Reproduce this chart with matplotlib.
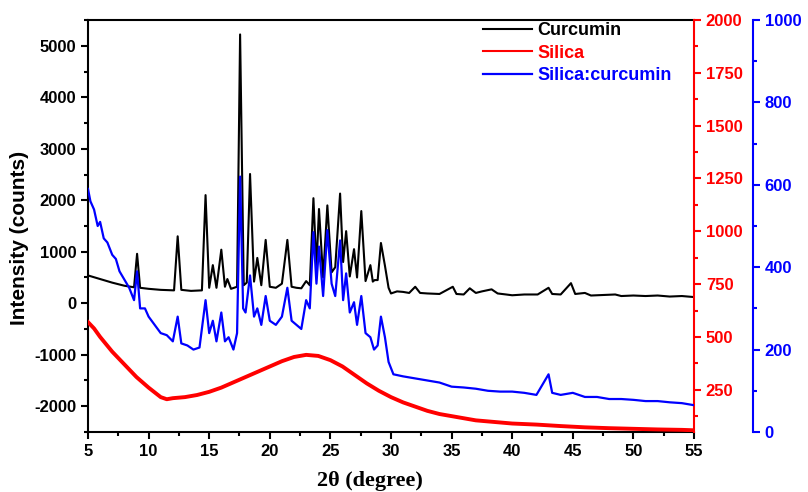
import matplotlib
matplotlib.use("agg")
import matplotlib.pyplot as plt
from matplotlib.ticker import MultipleLocator

# ---- datos ----
# Curcumin (eje izquierdo, counts)
cur_x = [5.0, 6.0, 7.0, 8.0, 8.8, 9.05, 9.3, 10.0, 11.0, 12.1, 12.4, 12.7, 13.5, 14.4, 14.7, 15.0,
         15.3, 15.6, 16.0, 16.3, 16.5, 16.8, 17.3, 17.55, 17.85, 18.1, 18.37, 18.7, 18.97, 19.3,
         19.66, 20.0, 20.5, 21.0, 21.45, 21.8, 22.2, 22.6, 23.0, 23.3, 23.6, 23.85, 24.06, 24.4,
         24.75, 25.1, 25.4, 25.8, 26.05, 26.3, 26.6, 26.95, 27.2, 27.55, 27.9, 28.3, 28.5, 28.65,
         28.9, 29.17, 29.5, 29.8, 30.0, 30.5, 31.0, 31.5, 32.0, 32.4, 33.0, 34.0, 35.1, 35.4, 36.0,
         36.5, 37.0, 37.5, 38.3, 38.8, 39.5, 40.0, 41.0, 42.1, 43.0, 43.3, 44.0, 44.85, 45.2, 46.0,
         46.5, 47.5, 48.5, 49.0, 50.0, 51.0, 52.0, 53.0, 54.0, 55.0]
cur_y = [540, 470, 400, 340, 310, 960, 300, 280, 260, 250, 1300, 260, 240, 250, 2100, 300,
         740, 300, 1040, 320, 470, 280, 320, 5220, 350, 400, 2510, 420, 880, 350,
         1230, 320, 300, 380, 1230, 320, 300, 290, 430, 350, 2040, 700, 1830, 500,
         1900, 600, 700, 2130, 800, 1400, 520, 1050, 500, 1790, 430, 740, 420, 450,
         450, 1170, 730, 300, 190, 230, 220, 200, 320, 200, 190, 180, 320, 180, 170,
         290, 200, 230, 270, 190, 170, 155, 170, 170, 300, 180, 170, 390, 180, 200,
         150, 160, 170, 140, 150, 140, 150, 130, 140, 120]

# Silica (eje rojo)
sil_x = [5, 5.5, 6, 7, 8, 9, 10, 11, 11.5, 12, 13, 14, 15, 16, 17, 18, 19, 20, 21, 22, 23,
         24, 25, 26, 27, 28, 29, 30, 31, 32, 33, 34, 35, 36, 37, 38, 39, 40, 42, 44, 46, 48,
         50, 52, 54, 55]
sil_y = [570, 540, 500, 430, 370, 310, 260, 215, 205, 210, 215, 225, 240, 260, 285, 310,
         335, 360, 385, 405, 415, 410, 390, 360, 320, 280, 245, 215, 190, 170, 150, 135,
         125, 115, 105, 100, 95, 90, 85, 78, 72, 68, 65, 62, 60, 58]

# Silica:curcumin (eje azul)
sc_x = [5.0, 5.2, 5.5, 5.8, 6.0, 6.3, 6.6, 7.0, 7.3, 7.6, 8.0, 8.4, 8.8, 9.05, 9.3, 9.7, 10.0,
        10.5, 11.0, 11.5, 12.0, 12.4, 12.7, 13.2, 13.7, 14.2, 14.7, 15.0, 15.3, 15.6, 16.0,
        16.3, 16.6, 17.0, 17.3, 17.55, 17.8, 18.0, 18.37, 18.7, 18.97, 19.3, 19.66, 20.0,
        20.5, 21.0, 21.45, 21.8, 22.2, 22.6, 23.0, 23.3, 23.6, 23.85, 24.06, 24.4, 24.75,
        25.1, 25.4, 25.8, 26.05, 26.3, 26.6, 26.95, 27.2, 27.55, 27.9, 28.3, 28.6, 28.9,
        29.17, 29.5, 29.8, 30.2, 31, 32, 33, 34, 35, 36, 37, 38, 39, 40, 41, 42, 43, 43.3,
        44, 45, 46, 47, 48, 49, 50, 51, 52, 53, 54, 55]
sc_y = [590, 560, 540, 500, 510, 470, 460, 430, 420, 390, 370, 350, 320, 390, 300, 300, 280,
        260, 240, 235, 220, 280, 215, 210, 200, 205, 320, 240, 270, 220, 290,
        220, 230, 200, 240, 620, 300, 290, 380, 280, 300, 260, 330, 270,
        260, 280, 350, 270, 260, 250, 320, 300, 485, 360, 450, 330, 490,
        360, 330, 465, 320, 385, 290, 315, 260, 330, 240, 230, 200, 210,
        280, 230, 170, 140, 135, 130, 125, 120, 110, 108, 105, 100, 98, 98, 95, 90, 140, 95,
        90, 95, 85, 85, 80, 80, 78, 75, 75, 72, 70, 65]

labels = ["Curcumin", "Silica", "Silica:curcumin"]
colors = ["black", "#ff0000", "#0000ff"]

plt.rcParams['font.family'] = ['Liberation Sans', 'DejaVu Sans']
plt.rcParams['font.weight'] = 'bold'
plt.rcParams['font.size'] = 12
plt.rcParams['axes.unicode_minus'] = False

fig = plt.figure(figsize=(8.08, 4.92), dpi=100)
ax = fig.add_axes([0.1089, 0.1220, 0.75, 0.8373])
ax_r = ax.twinx()
ax_b = ax.twinx()

l1, = ax.plot(cur_x, cur_y, color=colors[0], lw=1.5, label=labels[0])
l2, = ax_r.plot(sil_x, sil_y, color=colors[1], lw=2.8, label=labels[1])
l3, = ax_b.plot(sc_x, sc_y, color=colors[2], lw=1.6, label=labels[2])

ax.set_xlim(5, 55)
ax.set_ylim(-2500, 5500)
ax_r.set_ylim(50, 2000)
ax_b.set_ylim(0, 1000)

ax.xaxis.set_major_locator(MultipleLocator(5))
ax.xaxis.set_minor_locator(MultipleLocator(2.5))
ax.yaxis.set_major_locator(MultipleLocator(1000))
ax.yaxis.set_minor_locator(MultipleLocator(500))
ax_r.yaxis.set_major_locator(MultipleLocator(250))
ax_r.yaxis.set_minor_locator(MultipleLocator(125))
ax_b.yaxis.set_major_locator(MultipleLocator(200))
ax_b.yaxis.set_minor_locator(MultipleLocator(100))

# espinas
for a in (ax, ax_r, ax_b):
    for s in a.spines.values():
        s.set_linewidth(1.5)
# 59 px a la derecha del eje rojo (outward va en puntos)
ax_b.spines['right'].set_position(('outward', 59 * 72 / 100))
for a in (ax_r, ax_b):
    for side in ('top', 'left', 'bottom'):
        a.spines[side].set_visible(False)
ax.spines['right'].set_visible(False)
ax_r.spines['right'].set_color(colors[1])
ax_b.spines['right'].set_color(colors[2])

ax.tick_params(which='both', direction='out', width=1.5, top=False, right=False)
ax.tick_params(which='major', length=5)
ax.tick_params(which='minor', length=3)
ax_r.tick_params(which='both', direction='out', width=1.5, colors=colors[1])
ax_r.tick_params(which='major', length=5)
ax_r.tick_params(which='minor', length=3)
ax_b.tick_params(which='both', direction='out', width=1.5, colors=colors[2])
ax_b.tick_params(which='major', length=5)
ax_b.tick_params(which='minor', length=3)

ax.set_ylabel("Intensity (counts)", fontsize=15, fontweight='bold')
ax.yaxis.set_label_coords(-0.097, 0.47)
ax.set_xlabel("2\u03b8 (degree)", fontsize=16, fontweight='bold',
              family=['Liberation Serif', 'DejaVu Serif'])
ax.xaxis.set_label_coords(0.465, -0.095)

leg = fig.legend([l1, l2, l3], labels, loc='upper left', bbox_to_anchor=(0.598, 0.955),
                 frameon=False, fontsize=13, handlelength=2.7, handletextpad=0.3,
                 labelspacing=0.3, borderpad=0, borderaxespad=0)
for txt, c in zip(leg.get_texts(), colors):
    txt.set_color(c)
leg.get_lines()[1].set_linewidth(1.5)

fig.savefig("out.png", dpi=100)
